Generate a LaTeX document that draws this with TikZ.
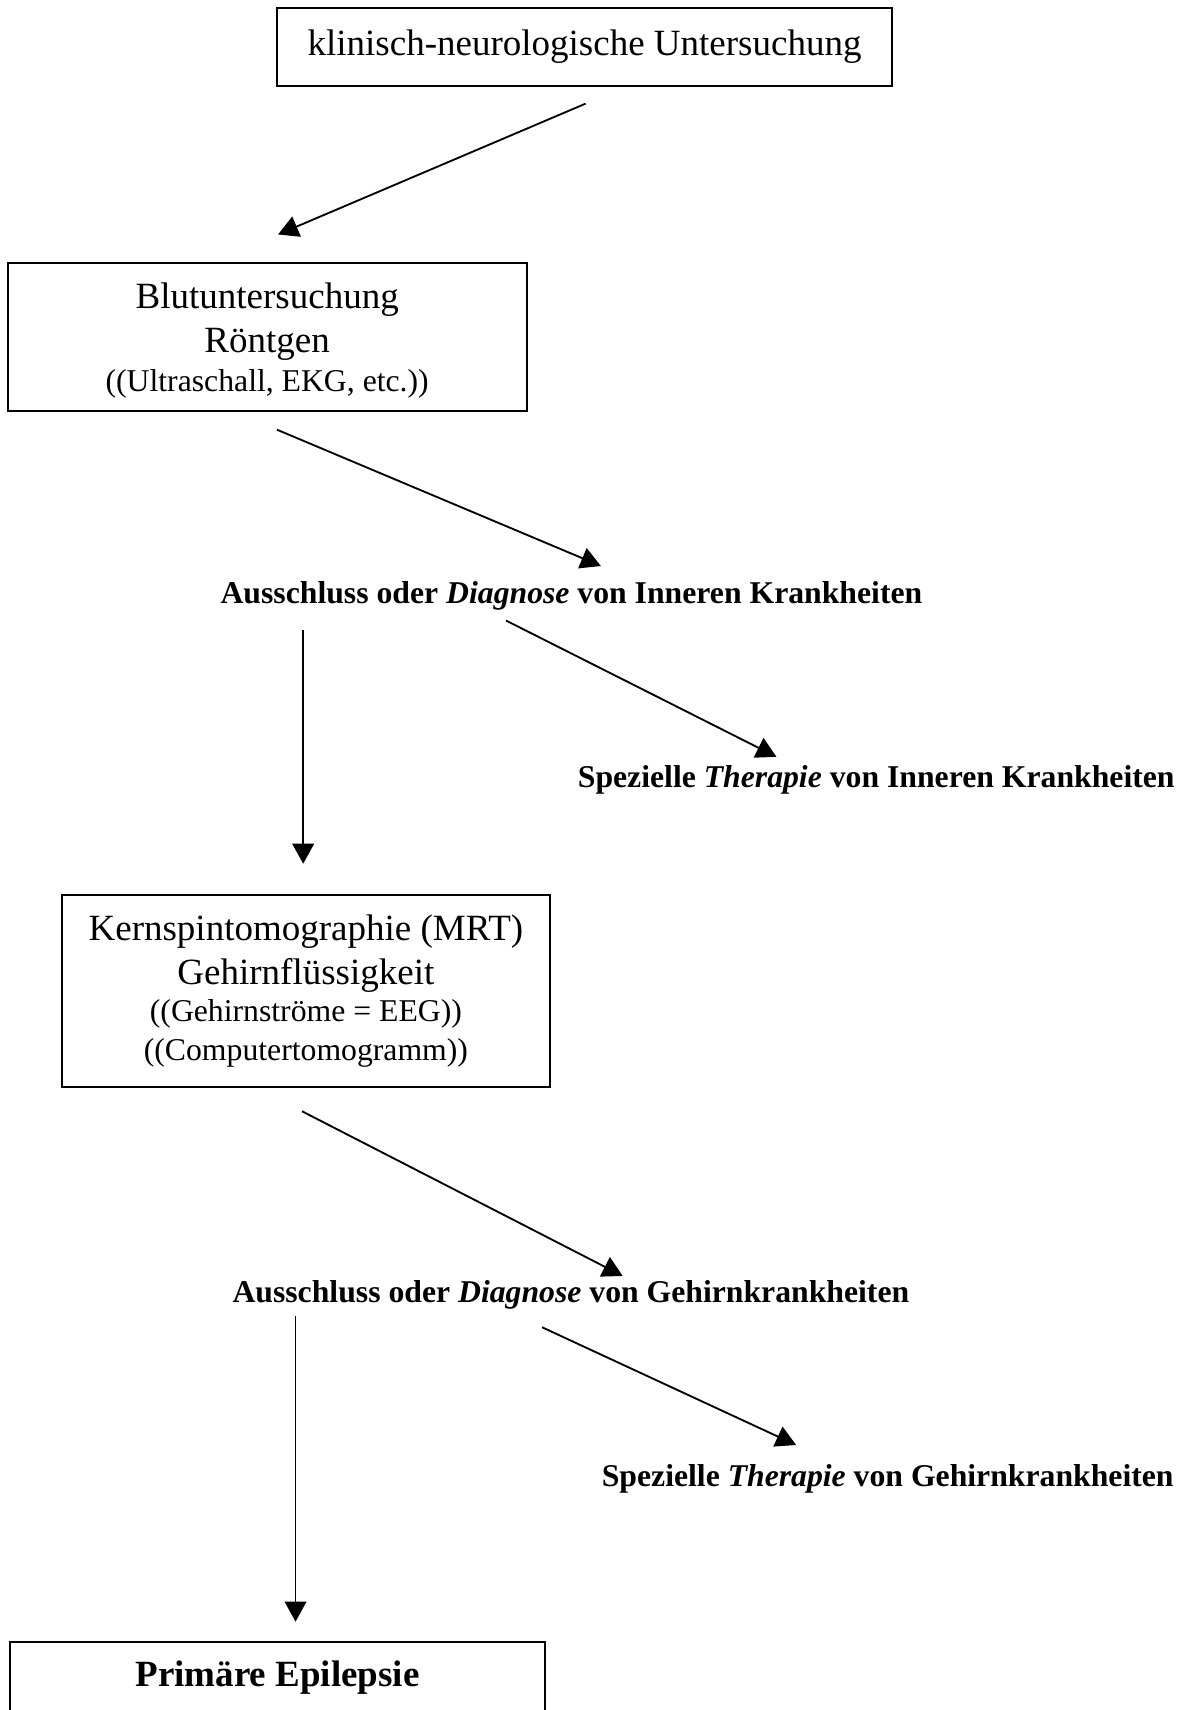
\documentclass[tikz,border=0pt]{standalone}
\usepackage{fontspec}
\setmainfont{Liberation Serif}
\usetikzlibrary{arrows.meta}
\newcommand{\pxu}{0.4126pt}

\begin{document}
\begin{tikzpicture}[x=\pxu, y=-\pxu,
	kasten/.style = {draw, line width = 0.7pt, align = center, inner sep = 0pt,
		font = \fontsize{14}{16.5}\selectfont},
	befund/.style = {inner sep = 0pt, font = \fontsize{12}{14}\selectfont\bfseries},
	pfeil/.style = {line width = 0.7pt, -{Triangle[length = 7.6pt, width = 8.2pt]}}]
						\useasboundingbox (0,0) rectangle (1089,1568);
						
						% Kaesten
						\node[kasten, minimum width = 564*\pxu, minimum height = 71*\pxu] (klinik) at (536,43) {klinisch-neurologische Untersuchung};
						\node[kasten, minimum width = 476*\pxu, minimum height = 136*\pxu, text depth = 0pt] (blut) at (245,309) {Blutuntersuchung\\Röntgen\\[-1.8pt]{\fontsize{12}{14}\selectfont ((Ultraschall, EKG, etc.))}};
						\node[kasten, minimum width = 447*\pxu, minimum height = 176*\pxu] (kern) at (280.5,909) {Kernspintomographie (MRT)\\Gehirnflüssigkeit\\[-2.4pt]{\fontsize{12}{14}\selectfont ((Gehirnströme = EEG))}\\[-1.6pt]{\fontsize{12}{14}\selectfont ((Computertomogramm))}};
						\node[kasten, anchor = north, minimum width = 491*\pxu, text height = 16.9pt, text depth = 30pt] (epi) at (254.5,1505) {\bfseries Primäre Epilepsie};
						
						% Ergebnisse
						\node[befund] (aus1) at (524,546) {Ausschluss oder \textit{Diagnose} von Inneren Krankheiten};
						\node[befund] (ther1) at (803.5,715) {Spezielle \textit{Therapie} von Inneren Krankheiten};
						\node[befund] (aus2) at (523.5,1187) {Ausschluss oder \textit{Diagnose} von Gehirnkrankheiten};
						\node[befund] (ther2) at (814,1356) {Spezielle \textit{Therapie} von Gehirnkrankheiten};
						
						% Pfeilenden
						\coordinate (p1a) at (537,95);   \coordinate (p1b) at (255,215);
						\coordinate (p2a) at (254,394);  \coordinate (p2b) at (551,519);
						\coordinate (p3a) at (464,569);  \coordinate (p3b) at (712,694);
						\coordinate (p4a) at (278,578);  \coordinate (p4b) at (278,792);
						\coordinate (p5a) at (277,1019); \coordinate (p5b) at (571,1170);
						\coordinate (p6a) at (497,1217); \coordinate (p6b) at (730,1325);
						\coordinate (p7a) at (271,1207); \coordinate (p7b) at (271,1487);
						
						\draw[pfeil] (p1a) -- (p1b);
						\draw[pfeil] (p2a) -- (p2b);
						\draw[pfeil] (p3a) -- (p3b);
						\draw[pfeil] (p4a) -- (p4b);
						\draw[pfeil] (p5a) -- (p5b);
						\draw[pfeil] (p6a) -- (p6b);
						\draw[pfeil] (p7a) -- (p7b);
						
						%\node at (0,0) {};
\end{tikzpicture}
\end{document}
